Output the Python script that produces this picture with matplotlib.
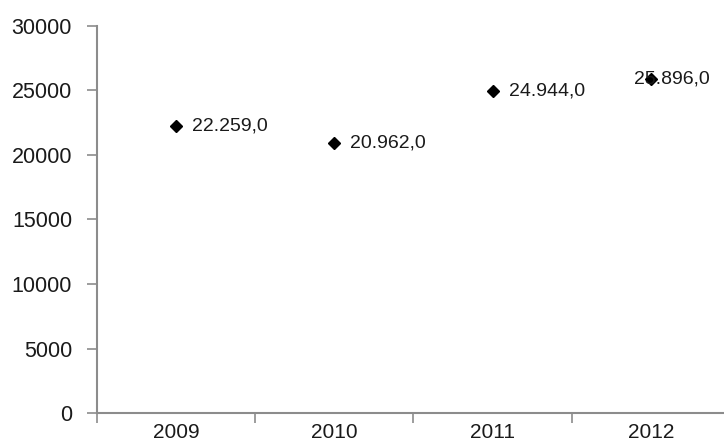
import matplotlib.pyplot as plt

# Data
years = ['2009', '2010', '2011', '2012']
values = [22259.0, 20962.0, 24944.0, 25896.0]
labels = ['22.259,0', '20.962,0', '24.944,0', '25.896,0']
label_dx = [16, 16, 16, -17]  # px offset of each data label

plt.rcParams['font.family'] = ['Liberation Sans', 'DejaVu Sans']

fig = plt.figure(figsize=(7.24, 4.47), dpi=100)
ax = fig.add_axes([0.134, 0.076, 0.874, 0.866])

x = list(range(1, len(years) + 1))
ax.plot(x, values, linestyle='none', marker='D', markersize=6.5, color='black', zorder=3)

for xi, v, lab, dx in zip(x, values, labels, label_dx):
    ax.annotate(lab, (xi, v), xytext=(dx * 0.72, 0), textcoords='offset points',
                va='center', ha='left', fontsize=14, color='#1a1a1a')

ax.set_xlim(0.5, 4.5)
ax.set_ylim(0, 30000)
ax.set_yticks(range(0, 30001, 5000))

# category ticks sit between the categories, labels at the centres
ax.set_xticks([0.5, 1.5, 2.5, 3.5, 4.5])
ax.set_xticklabels([])
ax.set_xticks(x, minor=True)
ax.set_xticklabels(years, minor=True)
ax.tick_params(axis='x', which='minor', length=0, pad=7, labelsize=15, labelcolor='#1a1a1a')
ax.tick_params(axis='x', which='major', length=7, width=1.2, color='#8c8c8c', direction='out')
ax.tick_params(axis='y', length=7, width=1.2, color='#8c8c8c', pad=11,
               labelsize=15.5, labelcolor='#1a1a1a')

for side in ['top', 'right']:
    ax.spines[side].set_visible(False)
for side in ['left', 'bottom']:
    ax.spines[side].set_color('#8c8c8c')
    ax.spines[side].set_linewidth(1.5)

fig.savefig('out.png', dpi=100)
